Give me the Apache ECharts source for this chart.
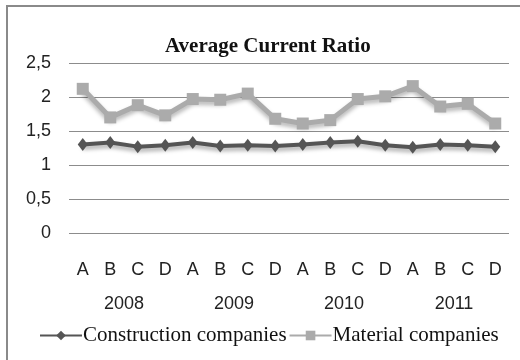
<!DOCTYPE html>
<html>
<head>
<meta charset="utf-8">
<style>
  html, body { margin: 0; padding: 0; background: #fff; }
  #chart { width: 520px; height: 360px; }
</style>
<script src="https://cdn.jsdelivr.net/npm/echarts@6/dist/echarts.min.js"></script>
</head>
<body>
<div id="chart"></div>
<script>
// Quarter labels and the years they belong to
const quarters = ['A', 'B', 'C', 'D', 'A', 'B', 'C', 'D', 'A', 'B', 'C', 'D', 'A', 'B', 'C', 'D'];
const years = ['2008', '2009', '2010', '2011'];

// Average current ratio per quarter
const construction = [1.30, 1.33, 1.27, 1.29, 1.33, 1.28, 1.29, 1.28, 1.30, 1.33, 1.35, 1.29, 1.26, 1.30, 1.29, 1.27];
const material = [2.12, 1.70, 1.88, 1.73, 1.97, 1.96, 2.05, 1.68, 1.61, 1.66, 1.97, 2.01, 2.16, 1.86, 1.90, 1.61];

const yTicks = [0, 0.5, 1, 1.5, 2, 2.5];

const axisFont = { fontFamily: 'Liberation Sans', fontSize: 18, color: '#222' };

const chart = echarts.init(document.getElementById('chart'));
chart.setOption({
  animation: false,
  backgroundColor: '#fff',
  graphic: [{
    type: 'rect',
    shape: { x: 7, y: 6, width: 600, height: 400 },
    style: { fill: 'none', stroke: '#8a8a8a', lineWidth: 2 }
  }],
  title: {
    text: 'Average Current Ratio',
    left: 160,
    top: 31,
    textStyle: { fontFamily: 'Liberation Serif', fontWeight: 'bold', fontSize: 21, color: '#111' }
  },
  legend: {
    top: 320,
    left: 34,
    itemWidth: 42,
    itemHeight: 12,
    itemGap: 2,
    textStyle: { fontFamily: 'Liberation Serif', fontSize: 21, color: '#111', padding: [0, 0, 0, -4] },
    data: ['Construction companies', 'Material companies']
  },
  grid: { left: 69, right: 11, top: 63, bottom: 127 },
  xAxis: [{
    type: 'category',
    data: quarters,
    boundaryGap: true,
    axisLine: { show: false },
    axisTick: { show: false },
    axisLabel: Object.assign({ margin: 28 }, axisFont)
  }, {
    type: 'category',
    data: years,
    position: 'bottom',
    offset: 34,
    boundaryGap: true,
    axisLine: { show: false },
    axisTick: { show: false },
    axisLabel: Object.assign({ margin: 28 }, axisFont)
  }],
  yAxis: {
    type: 'value',
    min: yTicks[0],
    max: yTicks[yTicks.length - 1],
    interval: 0.5,
    axisLine: { show: false },
    axisTick: { show: false },
    splitLine: { lineStyle: { color: '#8c8c8c', width: 1 } },
    axisLabel: Object.assign({
      margin: 18,
      formatter: v => String(v).replace('.', ',')
    }, axisFont)
  },
  series: [{
    name: 'Construction companies',
    type: 'line',
    xAxisIndex: 0,
    data: construction,
    symbol: 'diamond',
    symbolSize: [10, 13],
    z: 3,
    itemStyle: { color: '#555555' },
    lineStyle: { color: '#555555', width: 4, shadowColor: 'rgba(0,0,0,0.35)', shadowBlur: 4, shadowOffsetY: 3 }
  }, {
    name: 'Material companies',
    type: 'line',
    xAxisIndex: 0,
    data: material,
    symbol: 'rect',
    symbolSize: 12,
    z: 2,
    itemStyle: { color: '#ababab' },
    lineStyle: { color: '#ababab', width: 5, shadowColor: 'rgba(0,0,0,0.3)', shadowBlur: 4, shadowOffsetY: 3 }
  }]
});
</script>
</body>
</html>
